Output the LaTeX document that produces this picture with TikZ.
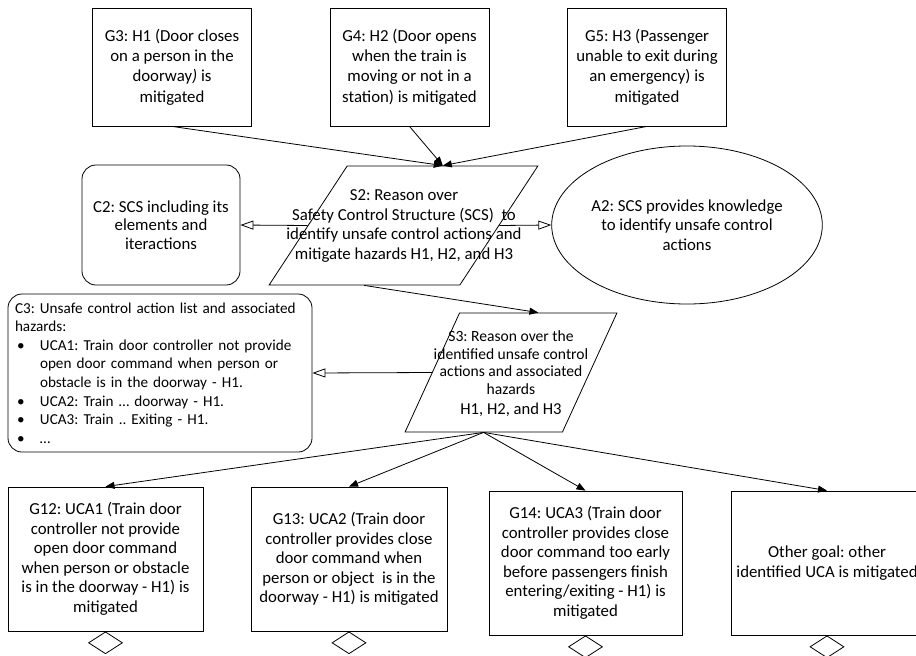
\documentclass[tikz,border=0pt]{standalone}
\usepackage{fontspec}
\setmainfont{Carlito}
\usetikzlibrary{arrows.meta,shapes.geometric,calc}
\frenchspacing

\tikzset{
  base/.style={line width=0.8pt, inner sep=0pt, align=center},
  mainfont/.style={font=\fontsize{16.8}{19.5}\selectfont},
  topfont/.style={font=\fontsize{16.8}{20.3}\selectfont},
  ctxfont/.style={font=\fontsize{16.8}{18.5}\selectfont},
  listfont/.style={font=\fontsize{15.2}{18.6}\selectfont},
  stratfont/.style={font=\fontsize{15.6}{17.7}\selectfont},
  goalbox/.style={base, mainfont, draw, rectangle},
  ctxbox/.style={base, draw, rectangle, rounded corners=14pt},
  assumption/.style={base, mainfont, draw, ellipse},
  strategy/.style={draw, line width=0.8pt, trapezium, trapezium stretches=true, inner sep=3pt},
  label/.style={base},
  undev/.style={draw, line width=0.8pt, diamond, inner sep=0pt, minimum width=34pt, minimum height=22pt, anchor=north},
  arr/.style={line width=0.8pt, -{Triangle[length=9pt,width=7pt]}},
  ctxarr/.style={line width=0.8pt, -{Triangle[open,length=13pt,width=9pt]}},
}

\begin{document}
\begin{tikzpicture}[x=1pt,y=-1pt]
\useasboundingbox (0,0) rectangle (916,656);

% top-level goals
\node[goalbox, topfont, minimum width=159pt, minimum height=118pt] (g3) at (172,67)
  {G3: H1 (Door closes\\on a person in the\\doorway\textit{)} is\\mitigated};
\node[goalbox, topfont, minimum width=159pt, minimum height=118pt] (g4) at (409.5,67)
  {G4: H2 (Door opens\\when the train is\\moving or not in a\\station) is mitigated};
\node[goalbox, topfont, minimum width=159pt, minimum height=118pt] (g5) at (647,67)
  {G5: H3 (Passenger\\unable to exit during\\an emergency) is\\mitigated};

% strategy S2 with its context and assumption
\node[strategy, trapezium left angle=77, trapezium right angle=103,
      minimum width=269pt, minimum height=119pt] (s2) at (403.5,225.5) {\strut};
\node[label, mainfont] (s2t) at (404,226)
  {S2: Reason over\\Safety Control Structure (SCS)\ \ to\\identify unsafe control actions and\\mitigate hazards H1, H2, and H3};
\node[ctxbox, ctxfont, minimum width=158pt, minimum height=120pt] (c2) at (161,225)
  {C2: SCS including its\\elements and\\iteractions};
\node[assumption, minimum width=238pt, minimum height=158pt] (a2) at (687,225)
  {A2: SCS provides knowledge\\to identify unsafe control\\actions};

% strategy S3 with its context
\node[strategy, trapezium left angle=80, trapezium right angle=100,
      minimum width=212pt, minimum height=119pt] (s3) at (511,372.5) {\strut};
\node[label, stratfont] (s3t) at (511,373.5)
  {S3: Reason over the\\identified unsafe control\\actions and associated\\hazards\\[2pt]
   \fontsize{16.6}{17.7}\selectfont H1, H2, and H3};
\node[ctxbox, listfont, align=left, text width=290pt, inner xsep=7pt, minimum height=158pt] (c3) at (160,373)
  {C3: Unsafe control action list and associated\\
   hazards:\\
   \makebox[25pt][l]{\hspace{2pt}\textbullet}UCA1: Train door controller not provide\\
   \hspace*{25pt}open door command when person or\\
   \hspace*{25pt}obstacle is in the doorway - H1.\\
   \makebox[25pt][l]{\hspace{2pt}\textbullet}UCA2: Train … doorway - H1.\\
   \makebox[25pt][l]{\hspace{2pt}\textbullet}UCA3: Train .. Exiting - H1.\\
   \makebox[25pt][l]{\hspace{2pt}\textbullet}…};

% sub-goals
\node[goalbox, minimum width=195pt, minimum height=144pt] (g12) at (105.5,559)
  {G12: UCA1 (Train door\\controller not provide\\open door command\\when person or obstacle\\is in the doorway - H1) is\\mitigated};
\node[goalbox, minimum width=196pt, minimum height=144pt] (g13) at (349,559)
  {G13: UCA2 (Train door\\controller provides close\\door command when\\person or object\ \ is in the\\doorway - H1) is mitigated};
\node[goalbox, minimum width=193pt, minimum height=144pt] (g14) at (585.5,563)
  {G14: UCA3 (Train door\\controller provides close\\door command too early\\before passengers finish\\entering/exiting - H1) is\\mitigated};
\node[goalbox, minimum width=192pt, minimum height=144pt] (gx) at (827,563)
  {Other goal: other\\identified UCA is mitigated};

% undeveloped markers
\node[undev] (u12) at (g12.south) {};
\node[undev] (u13) at (g13.south) {};
\node[undev] (u14) at (g14.south) {};
\node[undev] (ux) at (gx.south) {};

% connectors
\draw[arr] (g3.south) -- (s2.top side);
\draw[arr] (g4.south) -- (s2.top side);
\draw[arr] (g5.south) -- (s2.top side);
\draw[ctxarr] (s2.left side) -- (c2.east);
\draw[ctxarr] (s2.right side) -- (a2.west);
\draw[arr] (s2.bottom side) -- (s3.top side);
\draw[ctxarr] (s3.left side) -- (c3.east);
\draw[arr] (s3.bottom side) -- (g12.north);
\draw[arr] (s3.bottom side) -- (g13.north);
\draw[arr] (s3.bottom side) -- (g14.north);
\draw[arr] (s3.bottom side) -- (gx.north);
\end{tikzpicture}
\end{document}
